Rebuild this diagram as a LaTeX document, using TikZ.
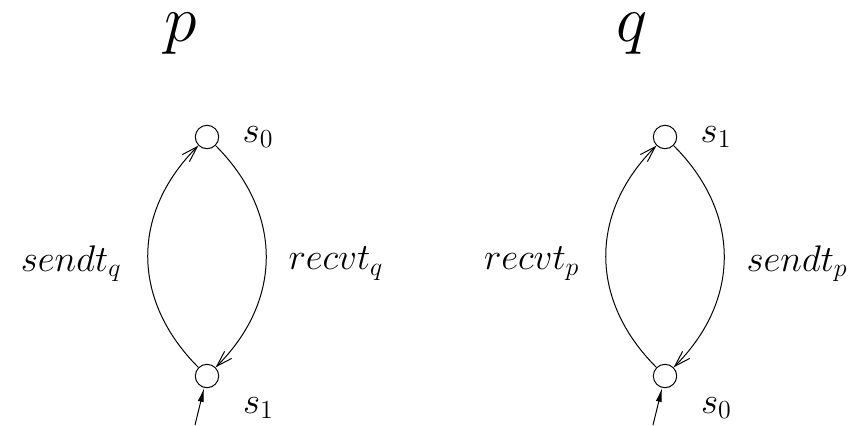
\RequirePackage{fix-cm}
\documentclass[tikz,border=0pt]{standalone}
\usetikzlibrary{positioning, arrows.meta}

\tikzset{
  loc/.style={circle, draw, minimum size=11.7pt, inner sep=0pt},
  lbl/.style={font=\fontsize{18.5}{22}\selectfont, inner sep=0pt},
  proc/.style={font=\fontsize{33}{40}\selectfont, inner sep=0pt},
  trans/.style={->, >={Straight Barb[length=8pt,width=5pt]}, bend left=45, looseness=1.1},
  init/.style={-{Latex[length=7pt,width=3pt]}}
}

\begin{document}
\begin{tikzpicture}[x=0.5pt, y=0.5pt, line width=0.5pt]
    \useasboundingbox (0,0) rectangle (860,425);

    % process p
    \node[proc] (pname) at (181,391) {$p$};
    \node[loc] (p0) at (207,288) {};
    \node[loc] (p1) at (207,49) {};
    \node[lbl, right=11.5pt of p0] (p0lbl) {$s_0$};
    \node[lbl, below right=6pt and 13.5pt of p1] (p1lbl) {$s_1$};
    \coordinate (pin) at (195,0);

    % process q
    \node[proc] (qname) at (632,391) {$q$};
    \node[loc] (q1) at (665,288) {};
    \node[loc] (q0) at (665,49) {};
    \node[lbl, right=11.5pt of q1] (q1lbl) {$s_1$};
    \node[lbl, below right=6pt and 13.5pt of q0] (q0lbl) {$s_0$};
    \coordinate (qin) at (653,0);

    \path (p1) edge [trans] node [lbl, left=13pt, yshift=-3.5pt] {$sendt_q$} (p0)
          (p0) edge [trans] node [lbl, right=11pt, yshift=-3.5pt] {$recvt_q$} (p1)
          (pin) edge [init] (p1);

    \path (q0) edge [trans] node [lbl, left=13pt, yshift=-3.5pt] {$recvt_p$} (q1)
          (q1) edge [trans] node [lbl, right=11pt, yshift=-3.5pt] {$sendt_p$} (q0)
          (qin) edge [init] (q0);
\end{tikzpicture}
\end{document}
